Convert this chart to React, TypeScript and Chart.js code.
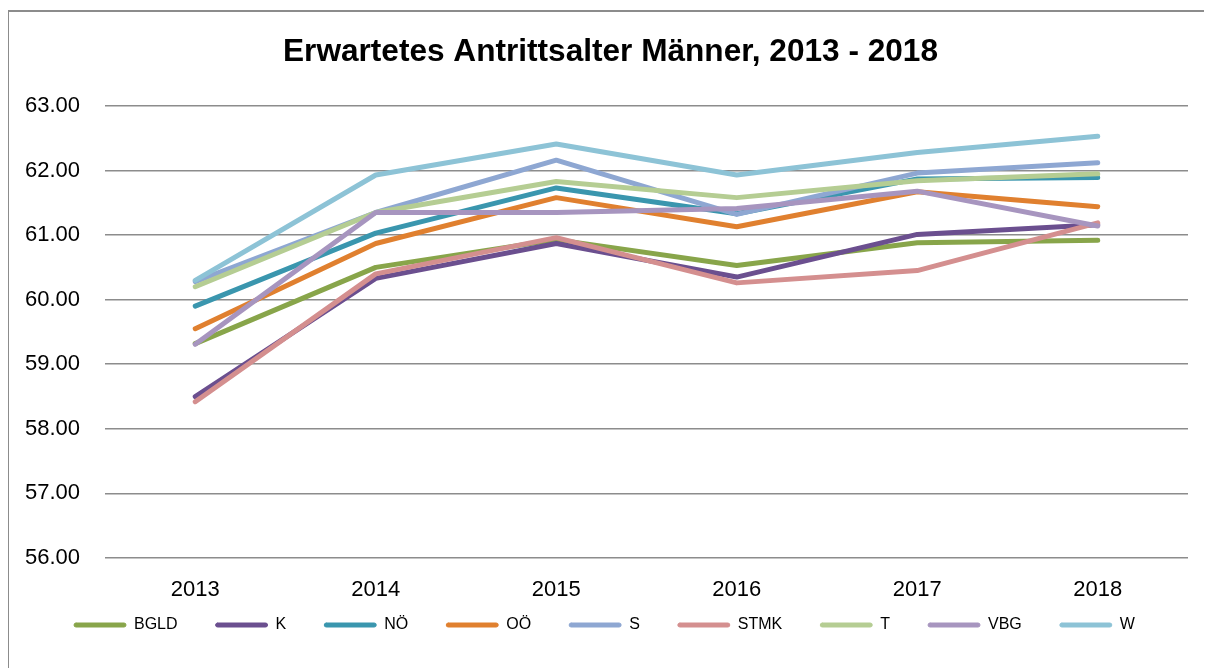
import React, { useEffect, useRef } from "react";
import { Chart, registerables } from "chart.js";

Chart.register(...registerables);

const TITLE = "Erwartetes Antrittsalter Männer, 2013 - 2018";
const years = ["2013", "2014", "2015", "2016", "2017", "2018"];

const seriesNames = ["BGLD", "K", "NÖ", "OÖ", "S", "STMK", "T", "VBG", "W"];
const BGLD = [59.32, 60.5, 60.93, 60.53, 60.88, 60.92];
const K = [58.5, 60.33, 60.87, 60.35, 61.01, 61.16];
const NOE = [59.9, 61.03, 61.73, 61.33, 61.87, 61.89];
const OOE = [59.55, 60.87, 61.58, 61.13, 61.67, 61.44];
const S = [60.28, 61.35, 62.16, 61.32, 61.96, 62.12];
const STMK = [58.42, 60.4, 60.96, 60.26, 60.45, 61.19];
const T = [60.2, 61.35, 61.83, 61.58, 61.84, 61.95];
const VBG = [59.31, 61.35, 61.35, 61.41, 61.68, 61.14];
const W = [60.3, 61.93, 62.41, 61.93, 62.28, 62.53];
const seriesValues = [BGLD, K, NOE, OOE, S, STMK, T, VBG, W];
const seriesColors = [
  "#88a54a",
  "#6b4f8f",
  "#3a96ae",
  "#e0802f",
  "#8ea7d2",
  "#d48f8f",
  "#b5cd93",
  "#a795bf",
  "#8dc3d6",
];

const yTicks = { min: 56, max: 63, step: 1 };

const FONT = "'Liberation Sans', Arial, sans-serif";

const boxShift = {
  id: "boxShift",
  afterLayout(chart: any) {
    const lg = chart.legend;
    if (lg) {
      lg.left += 27;
      lg.right += 27;
      lg.top -= 25;
      lg.bottom -= 25;
    }
    const tb = chart.titleBlock;
    if (tb) {
      tb.left += 12;
      tb.right += 12;
    }
  },
};

export default function App() {
  const ref = useRef<HTMLCanvasElement | null>(null);

  useEffect(() => {
    if (!ref.current) return;
    const n = seriesNames.length;
    const chart = new Chart(ref.current, {
      type: "line",
      data: {
        labels: years,
        datasets: seriesNames.map((name, i) => ({
          label: name,
          data: seriesValues[i],
          borderColor: seriesColors[i],
          backgroundColor: seriesColors[i],
          borderWidth: 5,
          pointRadius: 0,
          pointHoverRadius: 0,
          tension: 0,
          borderCapStyle: "round" as const,
          borderJoinStyle: "round" as const,
          order: n - i,
        })),
      },
      plugins: [boxShift],
      options: {
        animation: false,
        responsive: false,
        maintainAspectRatio: false,
        layout: { padding: { left: 0, right: 24, top: 0, bottom: 2 } },
        plugins: {
          title: {
            display: true,
            text: TITLE,
            color: "#000",
            font: { family: FONT, size: 31.6, weight: "bold" },
            padding: { top: 21, bottom: 35 },
          },
          legend: {
            position: "bottom",
            align: "start",
            labels: {
              color: "#000",
              font: { family: FONT, size: 16 },
              boxWidth: 52,
              boxHeight: 4,
              padding: 38,
              useBorderRadius: true,
              borderRadius: 2,
              sort: (a: any, b: any) => a.datasetIndex - b.datasetIndex,
              generateLabels: (chart: any) =>
                Chart.defaults.plugins.legend.labels
                  .generateLabels(chart)
                  .map((l: any) => ({ ...l, lineWidth: 1, strokeStyle: l.fillStyle, lineCap: "round" })),
            },
          },
          tooltip: { enabled: false },
        },
        scales: {
          x: {
            offset: true,
            grid: { display: false, drawTicks: false },
            border: { display: false },
            ticks: {
              color: "#000",
              padding: 19,
              font: { family: FONT, size: 22 },
              maxRotation: 0,
            },
            afterFit: (scale: any) => {
              scale.height = 46;
            },
          },
          y: {
            min: yTicks.min,
            max: yTicks.max,
            grid: { color: "#8c8c8c", lineWidth: 1.6, drawTicks: false },
            border: { display: false },
            ticks: {
              stepSize: yTicks.step,
              color: "#000",
              padding: 25,
              font: { family: FONT, size: 22 },
              callback: (v: any) => Number(v).toFixed(2),
            },
            afterFit: (scale: any) => {
              scale.width = 96;
            },
          },
        },
      },
    });
    return () => chart.destroy();
  }, []);

  return (
    <div
      style={{
        position: "relative",
        top: 2,
        left: -1,
        width: 1205,
        height: 660,
        boxSizing: "border-box",
        borderLeft: "2px solid #8c8c8c",
        borderTop: "2px solid #8c8c8c",
        background: "#fff",
      }}
    >
      <canvas ref={ref} width={1203} height={658} style={{ display: "block", width: 1203, height: 658 }} />
    </div>
  );
}
